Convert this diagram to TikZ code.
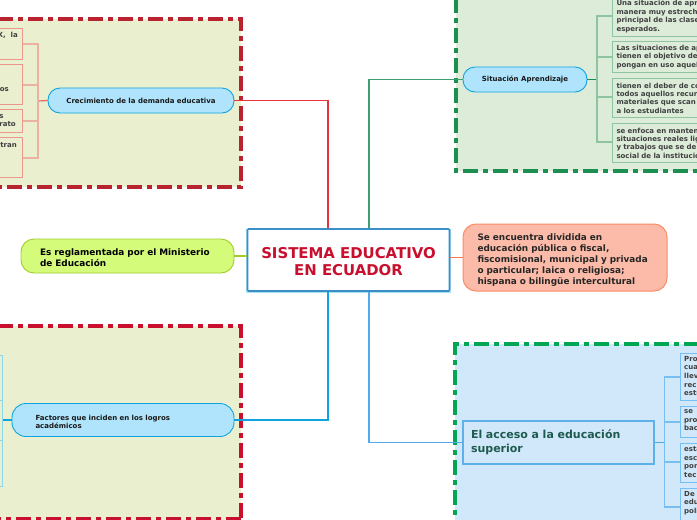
\documentclass[tikz,border=0pt]{standalone}
\usepackage{fontspec}
\setmainfont{DejaVu Sans}
\definecolor{olivebg}{HTML}{E9EFCF}
\definecolor{greenbg}{HTML}{DCECD9}
\definecolor{bluebg}{HTML}{D0E8F9}
\definecolor{redA}{HTML}{B9232F}
\definecolor{redB}{HTML}{C8102E}
\definecolor{greenA}{HTML}{1A8F4F}
\definecolor{greenB}{HTML}{00A651}
\definecolor{pillblue}{HTML}{B0E4FC}
\definecolor{pillline}{HTML}{0FA4E0}
\definecolor{cline}{HTML}{3A8FC7}
\definecolor{lime}{HTML}{D4FB7A}
\definecolor{limeline}{HTML}{A0CC30}
\definecolor{salmon}{HTML}{FBBBA8}
\definecolor{salmonline}{HTML}{FB8C68}
\definecolor{acline}{HTML}{5DB0E8}
\definecolor{actext}{HTML}{1F5A4F}
\definecolor{conred}{HTML}{E8323C}
\definecolor{congreen}{HTML}{3CA06E}
\definecolor{conblue}{HTML}{50AAEB}
\definecolor{conor}{HTML}{FB7850}
\definecolor{lrline}{HTML}{EC968C}
\definecolor{lrbranch}{HTML}{ECB2A0}
\definecolor{lrstub}{HTML}{F06464}
\definecolor{rgline}{HTML}{8FC4A0}
\definecolor{rbline}{HTML}{78BEF0}
\definecolor{lbline}{HTML}{8CD7EB}
\newcommand{\lowr}[1]{\rule{0pt}{#1pt}}
\tikzset{
  x=1pt,y=-1pt,
  group/.style={line width=4pt,dash pattern=on 15pt off 5pt on 5pt off 5pt},
  pill/.style={draw=pillline,fill=pillblue,line width=.9pt,rounded corners=12pt,align=left,font=\bfseries\fontsize{7}{8}\selectfont,text=black!90,inner sep=0pt},
  leaf/.style={draw=#1,line width=1pt,inner sep=0pt,font=\bfseries\fontsize{7}{8.4}\selectfont,text=black!75},
  frag/.style={inner sep=0pt,align=left,font=\bfseries\fontsize{7}{8.6}\selectfont,text=black!75},
  conn/.style={line width=1.2pt},
  branch/.style={line width=1.2pt},
  lr/.style={leaf=lrline,fill=olivebg,anchor=east,minimum width=60pt},
  rg/.style={leaf=rgline,fill=greenbg,anchor=west,minimum width=120pt,text width=112pt,align=left},
  rb/.style={leaf=rbline,fill=bluebg,anchor=west,minimum width=60pt},
  lb/.style={leaf=lbline,fill=olivebg,anchor=east,minimum width=40pt},
}
\begin{document}
\begin{tikzpicture}
\useasboundingbox (0,0) rectangle (697,520);
\fill[white] (0,0) rectangle (697,520);
% group panels
\fill[olivebg] (0,19) rectangle (241,187);
\draw[group,redA] (-2,19) -- (241,19) -- (241,187) -- (-2,187);
\fill[greenbg] (456,0) rectangle (697,171);
\draw[group,greenA] (456,-2) -- (456,171) -- (699,171);
\fill[bluebg] (455,344) rectangle (697,520);
\draw[group,greenB] (699,344) -- (455,344) -- (455,522);
\fill[olivebg] (0,326) rectangle (241,520);
\draw[group,redB] (-2,326) -- (241,326) -- (241,522);
\draw[group,redB] (241,519) -- (-2,519);
% centre
\node (cs) [fill=pillline!35,minimum width=205pt,minimum height=64pt,inner sep=0pt] at (348.5,260.5) {};
\node (c) [draw=cline,fill=white,line width=1.6pt,rounded corners=1pt,minimum width=202pt,minimum height=62pt,inner sep=0pt,align=center,text=redB,font=\bfseries\fontsize{14.9}{17}\selectfont] at (348.5,260) {\lowr{14}SISTEMA EDUCATIVO\\EN ECUADOR};
% main nodes
\node (cd) [pill,minimum width=186pt,minimum height=25pt,align=center] at (141,100.5) {Crecimiento de la demanda educativa};
\node (si) [pill,minimum width=124pt,minimum height=25pt,align=center] at (525,79.5) {Situación Aprendizaje};
\node (fa) [pill,minimum width=222pt,minimum height=33pt,rounded corners=14pt,text width=175pt] at (123,420) {\lowr{9}Factores que inciden en los logros\\académicos};
\node (mi) [draw=limeline,fill=lime,line width=.9pt,rounded corners=13pt,minimum width=213pt,minimum height=34pt,inner sep=0pt,text width=175pt,align=left,text=black,font=\bfseries\fontsize{8.9}{11}\selectfont] at (127.5,256) {\lowr{10}Es reglamentada por el Ministerio\\de Educación};
\node (di) [draw=salmonline,fill=salmon,line width=1pt,rounded corners=13pt,minimum width=204pt,minimum height=67pt,inner sep=0pt,text width=175pt,align=left,text=black!85,font=\bfseries\fontsize{8.9}{11}\selectfont] at (565,257.5) {\lowr{11}Se encuentra dividida en\\educación pública o fiscal,\\fiscomisional, municipal y privada\\o particular; laica o religiosa;\\hispana o bilingüe intercultural};
\node (ac) [draw=acline,fill=bluebg,line width=1.3pt,minimum width=191pt,minimum height=43pt,inner sep=0pt,text width=175pt,align=left,text=actext,font=\bfseries\fontsize{11}{14.3}\selectfont] at (558.5,442.5) {El acceso a la educación\\superior};
% main connectors
\draw[conn,conred] (cd.east) -| (c.north -| 328,0);
\draw[conn,congreen] (si.west) -| (c.north -| 369,0);
\draw[conn,pillline] (fa.east) -| (c.south -| 328,0);
\draw[conn,conblue] (ac.west) -| (c.south -| 369,0);
\draw[line width=1.4pt,limeline] (mi.east) -- (mi.east -| c.west);
\draw[conn,conor] (di.west) -- (di.west -| c.east);
% left top leaves
\node (l1) [lr,minimum height=31pt] at (22.5,43.5) {};
\node (l1t) [frag,anchor=east] at (18,35.5) {X,\ \ la};
\node (l2) [lr,minimum height=40pt] at (22.5,84.5) {};
\node (l2t) [frag,anchor=east] at (9,89.5) {os};
\node (l3) [lr,minimum height=23pt] at (22.5,121) {};
\node (l3t) [frag,anchor=east] at (16,120.5) {s\\rato};
\node (l4) [lr,minimum height=40pt] at (22.5,157.5) {};
\node (l4t) [frag,anchor=east] at (17,145.5) {tran};
\coordinate (b1) at (38,101);
\draw[conn,lrstub] (cd.west) -- (b1);
\draw[branch,lrbranch] (l1.east |- 0,44) -| (b1) |- (l4.east |- 0,158);
\draw[branch,lrbranch] (l2.east |- 0,85) -| (b1);
\draw[branch,lrbranch] (l3.east |- 0,121) -| (b1);
% right top leaves
\node (g1) [rg,minimum height=40pt] at (612,16.5) {Una situación de apr\\manera muy estrech\\principal de las clase\\esperados.};
\node (g2) [rg,minimum height=31pt] at (612,57) {Las situaciones de ap\\tienen el objetivo de\\pongan en uso aquel};
\node (g3) [rg,minimum height=39pt] at (612,98) {tienen el deber de co\\todos aquellos recur\\materiales que scan\\a los estudiantes};
\node (g4) [rg,minimum height=39pt] at (612,143) {se enfoca en manten\\situaciones reales lig\\y trabajos que se de\\social de la institució};
\coordinate (b2) at (597,79.5);
\draw[conn,greenA] (si.east) -- (b2);
\draw[branch,rgline] (g1.west |- 0,16) -| (b2) |- (g4.west |- 0,142);
\draw[branch,rgline] (g2.west |- 0,57) -| (b2);
\draw[branch,rgline] (g3.west |- 0,97) -| (b2);
% right bottom leaves
\node (h1) [rb,minimum height=47pt] at (680,376.5) {};
\node (h1t) [frag,anchor=north west] at (684,356) {Pro\\cua\\llev\\rec\\estr};
\node (h2) [rb,minimum height=31pt] at (680,421.5) {};
\node (h2t) [frag,anchor=north west] at (684,409.5) {se\\pro\\bac};
\node (h3) [rb,minimum height=39pt] at (680,462.5) {};
\node (h3t) [frag,anchor=north west] at (684,446.5) {esta\\esc\\por\\tec};
\node (h4) [rb,minimum height=44pt,anchor=north west] at (680,488) {};
\node (h4t) [frag,anchor=north west] at (684,491) {De\\edu\\poli};
\coordinate (b3) at (664.5,442.5);
\draw[conn,conblue] (ac.east) -- (b3);
\draw[branch,rbline] (h1.west |- 0,377) -| (b3) |- (h4.west |- 0,507);
\draw[branch,rbline] (h2.west |- 0,422) -| (b3);
\draw[branch,rbline] (h3.west |- 0,462) -| (b3);
% left bottom leaves
\node (k1) [lb,minimum height=45pt] at (2.5,377.5) {};
\node (k2) [lb,minimum height=40pt] at (2.5,420) {};
\node (k3) [lb,minimum height=46pt] at (2.5,463) {};
\draw[conn,pillline] (fa.west) -- (k2.east);
\end{tikzpicture}
\end{document}
